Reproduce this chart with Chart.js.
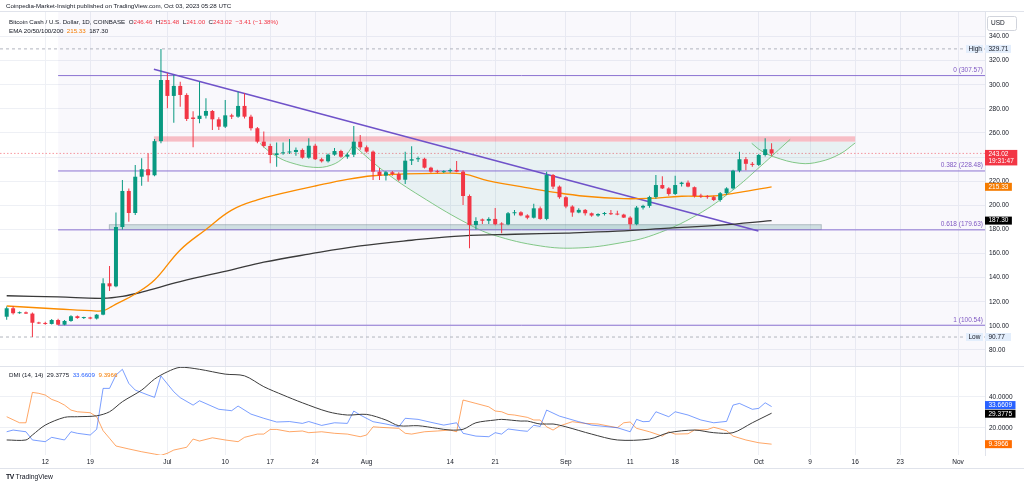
<!DOCTYPE html>
<html><head><meta charset="utf-8">
<script src="https://cdn.jsdelivr.net/npm/chart.js@4.4.0/dist/chart.umd.min.js"></script>
<style>
html,body{margin:0;padding:0;background:#fff;width:1024px;height:487px;overflow:hidden;font-family:"Liberation Sans",Arial,sans-serif;}
canvas{position:absolute;left:0;}
#c1{top:0;}
#c2{top:366px;}
.t{position:absolute;white-space:nowrap;font-size:6.2px;line-height:8px;color:#131722;z-index:5;}
.r{color:#f23645}.o{color:#f57c00}.b{color:#2962ff}
</style></head><body>
<canvas id="c1" width="1024" height="366"></canvas>
<canvas id="c2" width="1024" height="121"></canvas>
<div class="t" style="left:6px;top:2px;">Coinpedia-Market-Insight published on TradingView.com, Oct 03, 2023 05:28 UTC</div>
<div class="t" style="left:9px;top:18px;">Bitcoin Cash / U.S. Dollar, 1D, COINBASE&nbsp; O<span class="r">246.46</span>&nbsp; H<span class="r">251.48</span>&nbsp; L<span class="r">241.00</span>&nbsp; C<span class="r">243.02</span>&nbsp; <span class="r">−3.41 (−1.38%)</span></div>
<div class="t" style="left:9px;top:27px;">EMA 20/50/100/200&nbsp; <span class="o">215.33</span>&nbsp; 187.30</div>
<div class="t" style="left:9px;top:371px;">DMI (14, 14)&nbsp; 29.3775&nbsp; <span class="b">33.6609</span>&nbsp; <span class="o">9.3966</span></div>
<div class="t" style="left:6px;top:473px;font-size:6.8px;"><b style="font-weight:900;letter-spacing:-0.5px">TV</b>&nbsp;TradingView</div>
<script>
// ---- data (day index: 0 = 1 June 2023) ----
const firstDay = 5; // 6 June 2023
const opens = [107.6,114.6,110.5,111.2,110.2,102.6,102.0,101.6,104.9,101.0,104.1,108.0,106.5,107.0,106.1,109.3,135.3,132.8,182.0,211.9,193.6,223.7,229.9,224.9,253.2,303.9,290.7,299.0,291.5,272.8,271.6,274.3,278.2,271.3,265.2,274.6,273.5,282.4,273.5,263.9,252.8,249.2,241.7,243.1,243.8,244.2,245.9,239.5,249.4,238.2,236.5,242.0,245.0,240.3,242.0,252.8,248.1,244.5,227.9,224.6,227.4,226.0,221.2,237.0,238.2,238.6,231.2,227.9,227.5,228.3,229.3,227.9,207.7,183.6,188.3,187.2,188.7,184.8,184.1,193.4,194.2,191.6,189.7,197.5,188.7,225.1,215.5,206.7,199.0,194.0,196.2,193.4,191.5,192.8,193.3,192.6,192.3,189.8,184.3,198.1,199.5,206.9,216.8,214.0,209.4,217.7,218.8,215.0,207.7,207.2,206.8,204.4,210.0,214.0,228.7,238.2,234.4,233.5,241.7,246.46];
const highs = [116.0,116.5,112.0,112.0,111.0,103.5,103.5,105.8,106.0,104.8,108.8,108.6,107.6,107.6,109.8,139.5,149.7,194.0,221.0,214.0,233.4,239.0,243.1,255.0,329.71,309.5,308.0,302.5,293.0,278.0,302.5,288.7,279.0,273.0,287.3,276.0,294.2,292.9,275.0,265.0,261.1,251.0,252.0,252.0,255.0,248.0,247.0,255.6,251.0,239.5,243.0,247.5,246.0,243.5,265.8,258.3,249.5,245.5,231.0,228.5,228.5,227.5,244.5,249.0,240.5,239.5,232.0,229.5,229.0,230.5,236.8,229.0,209.0,190.0,189.0,190.0,197.8,186.0,194.5,196.0,195.0,192.5,201.3,199.0,227.9,226.0,216.5,207.5,200.0,197.5,197.0,194.0,193.5,194.5,196.0,195.5,193.0,191.0,199.5,200.5,208.0,225.1,224.0,215.0,224.5,219.5,220.5,215.5,209.5,208.5,208.0,211.0,215.0,229.5,244.5,240.0,236.0,242.5,255.6,251.48];
const lows = [105.0,109.5,110.0,109.8,90.77,101.5,101.0,101.2,100.5,100.5,103.5,106.0,105.8,105.5,105.2,108.8,129.0,132.0,180.0,186.4,192.0,216.3,219.6,224.0,251.5,280.4,268.5,281.8,270.0,248.1,268.0,272.0,262.5,262.5,264.0,271.5,272.5,272.0,262.0,251.5,248.0,234.9,232.0,242.0,242.5,241.0,238.5,238.5,237.5,235.5,235.5,241.0,239.5,238.5,240.0,246.0,243.5,221.0,221.0,220.5,224.5,220.0,217.7,233.5,236.0,230.5,227.0,226.5,226.8,227.0,227.5,200.3,164.4,180.0,184.5,184.5,183.5,176.8,183.5,191.5,191.0,188.5,189.0,188.0,187.5,213.5,205.5,197.5,190.5,193.5,191.5,190.5,190.5,191.5,192.0,191.8,189.5,180.0,183.5,196.5,198.0,205.5,213.5,208.0,208.5,215.5,215.0,206.5,206.0,205.5,203.5,203.0,208.5,213.0,227.5,229.0,232.0,232.5,240.5,241.0];
const closes = [114.6,110.5,111.2,110.2,102.6,102.0,101.6,104.9,101.0,104.1,108.0,106.5,107.0,106.1,109.3,135.3,132.8,182.0,211.9,193.6,223.7,229.9,224.9,253.2,303.9,290.7,299.0,291.5,271.6,271.6,274.3,278.2,271.3,265.2,274.6,273.5,282.4,273.5,263.9,252.8,249.2,241.7,243.1,243.8,244.2,245.9,239.5,249.4,238.2,236.5,242.0,245.0,240.3,242.0,252.8,248.1,244.5,227.9,224.6,227.4,226.0,221.2,237.0,238.2,238.6,231.2,227.9,227.5,228.3,229.3,227.9,207.7,183.6,187.0,187.2,188.7,184.3,184.1,193.4,194.2,191.6,189.7,197.5,188.7,225.1,215.5,206.7,199.0,194.0,196.2,193.4,191.5,192.8,193.3,192.6,192.3,189.8,184.3,198.1,199.5,206.9,216.8,214.0,209.4,216.8,218.8,215.5,207.7,207.2,206.8,204.4,210.0,214.0,228.7,238.2,234.4,233.5,241.7,246.5,243.02];

const ema50 = [[5,116.5],[13,114.0],[19,112.3],[20,112.6],[21,115.0],[22,118.0],[25,126.5],[28,138.0],[32,163.0],[36,180.0],[40,196.0],[44,204.5],[48,210.0],[53,216.0],[58,221.5],[62,224.5],[67,226.0],[72,226.5],[76,226.0],[80,220.3],[85,215.5],[90,211.0],[95,207.5],[101,205.5],[105,205.8],[110,207.5],[115,207.7],[119,210.7],[124,215.33]];
const ema200 = [[5,125.0],[13,124.0],[20,122.9],[23,124.5],[26,128.0],[32,136.7],[40,146.5],[45,152.8],[52,159.5],[60,166.3],[68,171.0],[76,174.7],[84,176.0],[92,177.0],[100,178.5],[108,181.0],[116,183.5],[124,187.3]];

const adx = [[5,12.1],[8,12.1],[9,15.3],[11,21.7],[14,26.7],[16,27.1],[19,27.7],[21,30.3],[23,36.8],[26,44.3],[28,51.4],[30,56.1],[32,59.0],[35,57.7],[39,54.6],[42,53.5],[45,46.5],[48,41.1],[51,36.1],[55,30.3],[58,28.2],[61,28.6],[64,25.0],[66,21.3],[69,21.3],[72,19.6],[74,18.5],[76,19.0],[78,23.2],[81,25.0],[82,25.4],[85,24.3],[86,24.3],[88,22.4],[90,22.4],[92,20.6],[96,15.9],[100,12.1],[105,12.7],[108,16.8],[112,18.5],[115,16.8],[118,16.8],[121,23.2],[124,29.38]];
const plusDI = [[5,17.4],[6,18.5],[8,17.4],[9,12.1],[11,11.0],[12,13.8],[14,12.1],[15,17.4],[16,16.4],[18,15.3],[19,19.0],[20,45.4],[21,45.4],[22,54.0],[23,57.7],[24,48.6],[25,44.3],[27,41.1],[28,39.6],[29,53.4],[31,43.2],[32,39.4],[34,34.6],[35,37.4],[38,31.9],[40,31.0],[41,34.0],[43,28.8],[45,26.1],[47,23.7],[49,24.0],[51,22.8],[52,24.0],[54,21.5],[56,23.2],[58,22.8],[59,30.8],[60,28.2],[62,23.9],[64,22.4],[66,20.6],[67,26.1],[69,25.4],[71,23.5],[73,21.7],[75,23.2],[76,16.4],[78,14.6],[80,14.2],[81,16.8],[82,15.9],[83,19.2],[85,18.1],[86,17.7],[87,21.6],[88,20.8],[89,31.4],[91,27.5],[94,23.9],[96,21.7],[100,20.0],[102,17.4],[103,25.4],[104,23.9],[105,24.1],[106,30.3],[108,27.1],[109,30.3],[111,28.2],[113,25.0],[115,23.2],[117,24.1],[118,34.6],[119,35.7],[121,31.9],[122,32.5],[123,36.1],[124,33.66]];
const minusDI = [[5,27.1],[7,23.2],[8,23.2],[9,42.8],[10,42.2],[11,41.1],[12,38.3],[13,36.8],[14,34.6],[15,31.4],[16,30.3],[18,29.7],[19,27.1],[20,18.1],[21,13.2],[22,8.2],[24,6.3],[26,4.5],[28,3.0],[29,2.2],[30,3.5],[31,5.6],[33,7.4],[34,12.7],[35,11.4],[37,13.5],[39,12.1],[41,11.0],[42,13.8],[44,15.9],[45,15.9],[46,18.9],[47,18.9],[49,17.4],[51,17.9],[52,16.8],[54,17.4],[56,16.4],[58,15.9],[60,14.2],[61,15.3],[62,20.6],[63,20.3],[66,19.6],[67,16.4],[68,15.9],[70,17.4],[72,17.9],[74,18.5],[75,17.4],[76,37.9],[78,35.7],[80,33.5],[81,30.8],[82,30.3],[83,28.6],[84,28.2],[86,26.7],[87,25.0],[88,25.0],[89,20.6],[90,18.5],[91,21.1],[93,23.9],[95,22.8],[97,22.4],[100,20.0],[101,23.2],[102,23.7],[103,19.6],[105,17.4],[107,14.6],[108,17.4],[109,15.9],[111,16.1],[112,18.5],[114,18.8],[115,20.3],[117,18.1],[118,14.6],[120,12.1],[122,10.3],[124,9.3966]];

const priceTicks = [80,100,120,140,160,180,200,220,240,260,280,300,320,340];
const dmiTicks = [20,40];
const tickDays = [11,18,30,39,46,53,61,74,81,92,102,109,122,130,137,144,153];
const tickLabels = ['12','19','Jul','10','17','24','Aug','14','21','Sep','11','18','Oct','9','16','23','Nov'];

const fibLevels = [307.57,228.48,179.63,100.54];
const fibNames = ['0','0.382','0.618','1'];
const fibStartDay = 13;
const highValue = 329.71, lowValue = 90.77, lastClose = 243.02, ema50Last = 215.33, ema200Last = 187.30;
const adxLast = 29.3775, plusLast = 33.6609, minusLast = 9.3966;
const resistanceZone = [27.9,137,252.8,257.2];  // startDay, endDay, low, high
const supportZone = [20.9,131.8,179.5,184.3];
const trendLine = [[27.9,312.8],[121.95,178.7]];
const leftArc = [[44.4,251.4],[45.4,246.5],[47,240.5],[49.1,235.5],[52.7,231.5],[55.5,233.3],[57.6,240.5],[58.9,250]];
const bigArc = [[58.9,250],[64.1,226.6],[70.35,204.4],[76.6,185.1],[80.7,175.4],[88,166.3],[93.9,164.6],[100.4,168.75],[105.6,175.4],[112.4,192],[118,212.7],[122.2,232],[126.9,254.75]];
const rightArc = [[120.9,251.4],[122.3,245.5],[124.3,240.3],[128.4,234.8],[131.5,236.2],[134.65,242.6],[137,251.7]];

// ---- layout constants ----
const xMin = 3.96, xMax = 157.2;
const priceMin = 66.73, priceMax = 360.3;
const dmiMin = 2.4, dmiMax = 59.2;
const GREEN = '#089981', RED = '#f23645';
const FONT = '"Liberation Sans", Arial, sans-serif';
const GRID = '#eef0f5';

const mk = pairs => pairs.map(p => ({x:p[0], y:p[1]}));
const lineDs = (data, color, width, order, extra) => Object.assign({type:'line', data, borderColor:color, borderWidth:width, pointRadius:0, fill:false, order, tension:0}, extra || {});
const candleDays = opens.map((_, i) => firstDay + i);
const candleColors = closes.map((c, i) => c >= opens[i] ? GREEN : RED);

function tag(ctx, yc, bg, fg, texts, h) {
  ctx.font = '6.5px ' + FONT;
  const w = Math.max(...texts.map(t => ctx.measureText(t).width)) + 7;
  ctx.fillStyle = bg; ctx.fillRect(985, yc - 4, w, h);
  ctx.fillStyle = fg; ctx.textBaseline = 'middle'; ctx.textAlign = 'left';
  texts.forEach((t, i) => ctx.fillText(t, 988.5, yc + i * 7.5));
}

const overlay1 = {
  id: 'overlay1',
  beforeDatasetsDraw(chart) {
    const {ctx, chartArea:a, scales:{x, y}} = chart;
    ctx.save();
    ctx.beginPath(); ctx.rect(a.left, a.top, a.right - a.left, a.bottom - a.top); ctx.clip();
    const fx = x.getPixelForValue(fibStartDay);
    ctx.fillStyle = 'rgba(126,87,194,0.045)';
    ctx.fillRect(fx, a.top, a.right - fx, a.bottom - a.top);
    const zone = (z, fill, stroke) => {
      const x0 = x.getPixelForValue(z[0]), x1 = x.getPixelForValue(z[1]);
      const y0 = y.getPixelForValue(z[3]), y1 = y.getPixelForValue(z[2]);
      ctx.fillStyle = fill; ctx.fillRect(x0, y0, x1 - x0, y1 - y0);
      if (stroke) { ctx.strokeStyle = stroke; ctx.lineWidth = 1; ctx.strokeRect(x0 + 0.5, y0 + 0.5, x1 - x0 - 1, y1 - y0 - 1); }
    };
    zone(resistanceZone, 'rgba(242,54,69,0.30)');
    zone(supportZone, 'rgba(110,165,165,0.30)', 'rgba(120,123,134,0.35)');
    ctx.restore();
  },
  afterDatasetsDraw(chart) {
    const {ctx, chartArea:a, scales:{y}} = chart;
    ctx.save();
    ctx.font = '6.5px ' + FONT; ctx.fillStyle = '#7e57c2'; ctx.textAlign = 'right'; ctx.textBaseline = 'middle';
    fibLevels.forEach((v, i) => ctx.fillText(fibNames[i] + ' (' + v.toFixed(2) + ')', a.right - 2, y.getPixelForValue(v) - 5.5));
    ctx.restore();
  },
  afterDraw(chart) {
    const {ctx, chartArea:a, scales:{y}} = chart;
    ctx.save();
    ctx.strokeStyle = '#e0e3eb'; ctx.lineWidth = 1;
    ctx.beginPath(); ctx.moveTo(0, a.top - 0.5); ctx.lineTo(1024, a.top - 0.5); ctx.stroke();
    ctx.strokeStyle = '#d1d4dc'; ctx.beginPath(); if (ctx.roundRect) ctx.roundRect(987.5, 16.5, 29, 14, 2); else ctx.rect(987.5, 16.5, 29, 14); ctx.stroke();
    ctx.font = '6.5px ' + FONT; ctx.fillStyle = '#131722'; ctx.textBaseline = 'middle'; ctx.textAlign = 'left';
    ctx.fillText('USD', 991, 23.5);
    const hl = (v, name) => {
      const yc = y.getPixelForValue(v);
      ctx.fillStyle = '#e3eefc'; ctx.fillRect(966, yc - 4, 17, 8); ctx.fillRect(985, yc - 4, 26, 8);
      ctx.fillStyle = '#131722'; ctx.textAlign = 'left'; ctx.fillText(name, 968.5, yc); ctx.fillText(v.toFixed(2), 988.5, yc);
    };
    hl(highValue, 'High'); hl(lowValue, 'Low');
    tag(ctx, y.getPixelForValue(lastClose) + 0.5, RED, '#fff', [lastClose.toFixed(2), '19:31:47'], 15.5);
    tag(ctx, y.getPixelForValue(ema50Last), '#f57c00', '#fff', [ema50Last.toFixed(2)], 8);
    tag(ctx, y.getPixelForValue(ema200Last), '#000', '#fff', [ema200Last.toFixed(2)], 8);
    ctx.restore();
  }
};

const overlay2 = {
  id: 'overlay2',
  afterDraw(chart) {
    const {ctx, scales:{y}} = chart;
    ctx.save();
    ctx.strokeStyle = '#e0e3eb'; ctx.lineWidth = 1;
    ctx.beginPath(); ctx.moveTo(0, 0.5); ctx.lineTo(1024, 0.5); ctx.stroke();
    ctx.beginPath(); ctx.moveTo(0, 102.5); ctx.lineTo(1024, 102.5); ctx.stroke();
    tag(ctx, y.getPixelForValue(plusLast) - 1.5, '#2962ff', '#fff', [plusLast.toFixed(4)], 8);
    tag(ctx, y.getPixelForValue(adxLast) + 0.5, '#000', '#fff', [adxLast.toFixed(4)], 8);
    tag(ctx, y.getPixelForValue(minusLast), '#ff6d00', '#fff', [minusLast.toFixed(4)], 8);
    ctx.restore();
  }
};

const xTicks = s => { s.ticks = tickDays.map(v => ({value:v})); };
const yFit = s => { s.width = 39; s.paddingTop = 0; s.paddingBottom = 0; };

new Chart(document.getElementById('c1'), {
  type: 'bar',
  data: { datasets: [
    {type:'bar', data: candleDays.map((d, i) => ({x:d, y:[opens[i], closes[i]]})), backgroundColor: candleColors, maxBarThickness: 4, minBarLength: 1, grouped: false, borderWidth: 0, order: 0},
    {type:'bar', data: candleDays.map((d, i) => ({x:d, y:[lows[i], highs[i]]})), backgroundColor: candleColors, maxBarThickness: 1, grouped: false, borderWidth: 0, order: 1},
    lineDs(mk(ema50), '#fb8c00', 1.3, 2, {tension:0.4}),
    lineDs(mk(ema200), '#3a3a3a', 1.3, 3, {tension:0.4}),
    lineDs(mk(trendLine), '#6f52c9', 1.5, 4),
    ...fibLevels.map(v => lineDs([{x:fibStartDay, y:v}, {x:xMax, y:v}], '#8c73d2', 1, 5)),
    lineDs(mk(leftArc), 'rgba(102,187,106,0.8)', 1, 6, {tension:0.4, fill:{value:resistanceZone[2]}, backgroundColor:'rgba(8,153,129,0.07)'}),
    lineDs(mk(bigArc), 'rgba(102,187,106,0.8)', 1, 6, {tension:0.4, fill:{value:resistanceZone[2]}, backgroundColor:'rgba(8,153,129,0.07)'}),
    lineDs(mk(rightArc), 'rgba(102,187,106,0.8)', 1, 6, {tension:0.4, fill:{value:resistanceZone[2]}, backgroundColor:'rgba(8,153,129,0.07)'}),
    lineDs([{x:xMin, y:highValue}, {x:xMax, y:highValue}], '#b2b5be', 1, 7, {borderDash:[3,3]}),
    lineDs([{x:xMin, y:lowValue}, {x:xMax, y:lowValue}], '#b2b5be', 1, 7, {borderDash:[3,3]}),
    lineDs([{x:xMin, y:lastClose}, {x:xMax, y:lastClose}], 'rgba(242,54,69,0.5)', 1, 7, {borderDash:[1.5,2]})
  ]},
  options: {
    responsive: false, animation: false, devicePixelRatio: 1,
    layout: {padding: {top: 12, left: 0, right: 0, bottom: 0}},
    plugins: {legend: {display: false}, tooltip: {enabled: false}},
    scales: {
      x: {type:'linear', min:xMin, max:xMax, offset:false, grid:{color:GRID, drawTicks:false, offset:false}, border:{display:false}, ticks:{display:false}, afterBuildTicks: xTicks, afterFit: s => { s.height = 0; s.paddingLeft = 0; s.paddingRight = 0; }},
      y: {type:'linear', position:'right', min:priceMin, max:priceMax, beginAtZero:false, grid:{color:GRID, drawTicks:false}, border:{display:true, color:'#e0e3eb'},
          ticks:{padding:4, color:'#131722', font:{family:FONT, size:6.5}, callback: v => Number(v).toFixed(2)},
          afterBuildTicks: s => { s.ticks = priceTicks.map(v => ({value:v})); }, afterFit: yFit}
    }
  },
  plugins: [overlay1]
});

new Chart(document.getElementById('c2'), {
  type: 'line',
  data: { datasets: [
    lineDs(mk(adx), '#3c3c3c', 1, 0, {tension:0.3}),
    lineDs(mk(plusDI), 'rgba(41,98,255,0.62)', 1, 1),
    lineDs(mk(minusDI), 'rgba(255,109,0,0.6)', 1, 2)
  ]},
  options: {
    responsive: false, animation: false, devicePixelRatio: 1,
    layout: {padding: {top: 1, left: 0, right: 0, bottom: 0}},
    plugins: {legend: {display: false}, tooltip: {enabled: false}},
    scales: {
      x: {type:'linear', min:xMin, max:xMax, offset:false, grid:{color:GRID, drawTicks:false, offset:false}, border:{display:false},
          ticks:{autoSkip:false, maxRotation:0, padding:3, color:'#131722', font:{family:FONT, size:6.5}, callback: v => { const i = tickDays.indexOf(v); return i < 0 ? '' : tickLabels[i]; }},
          afterBuildTicks: xTicks, afterFit: s => { s.height = 32; s.paddingLeft = 0; s.paddingRight = 0; }},
      y: {type:'linear', position:'right', min:dmiMin, max:dmiMax, grid:{color:GRID, drawTicks:false}, border:{display:true, color:'#e0e3eb'},
          ticks:{padding:4, color:'#131722', font:{family:FONT, size:6.5}, callback: v => Number(v).toFixed(4)},
          afterBuildTicks: s => { s.ticks = dmiTicks.map(v => ({value:v})); }, afterFit: yFit}
    }
  },
  plugins: [overlay2]
});
</script>
</body></html>
